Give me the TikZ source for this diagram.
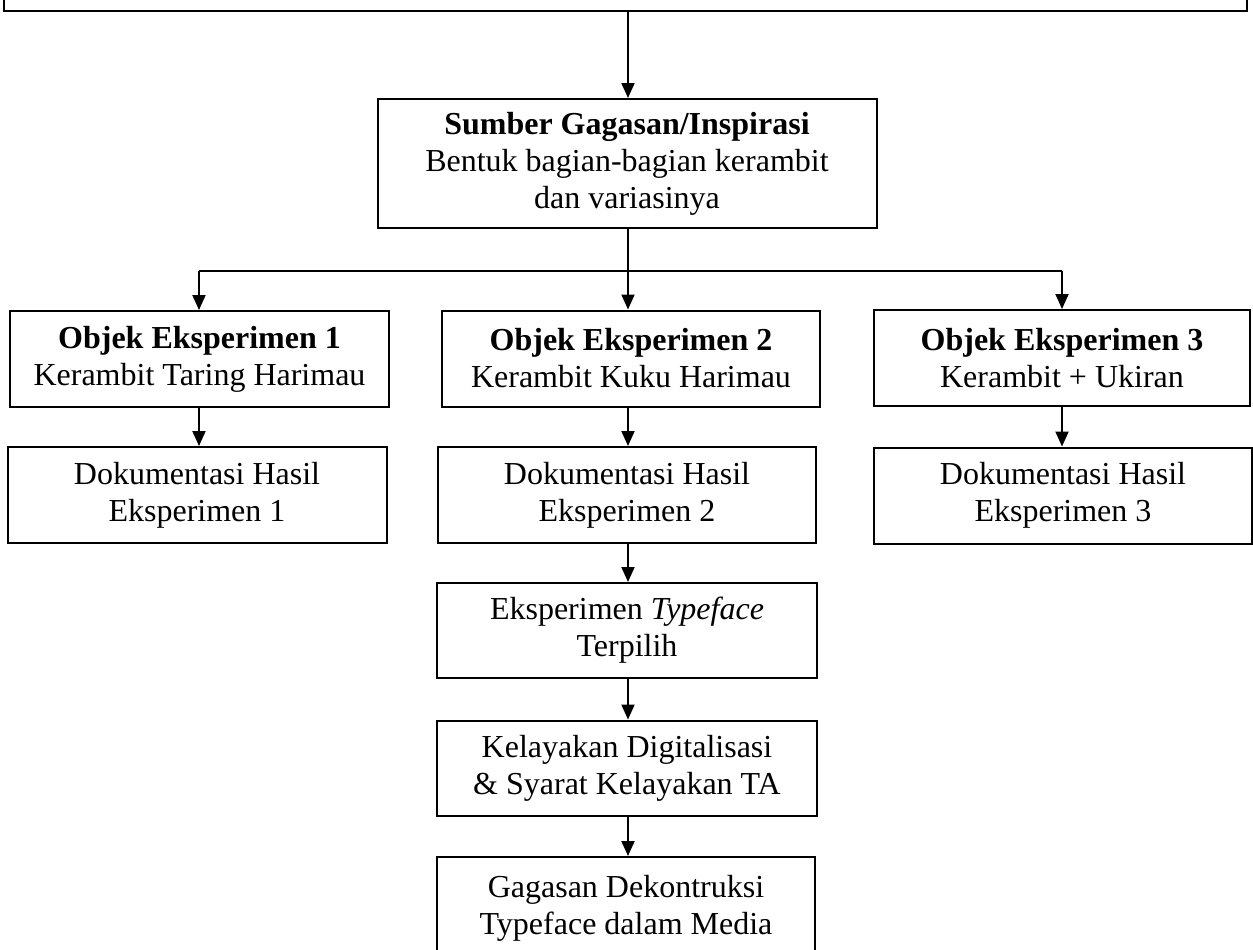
\documentclass[tikz,border=0pt]{standalone}
\usepackage{fontspec}
\setmainfont{Liberation Serif}
\usetikzlibrary{arrows.meta}
\begin{document}
\begin{tikzpicture}[x=0.5pt,y=-0.5pt,
 box/.style={draw, line width=1pt, align=center, inner sep=0pt, font=\fontsize{16}{18.5}\selectfont},
 arr/.style={-{Triangle[width=6.5pt,length=7.5pt]}, line width=1pt},
 ln/.style={line width=1pt}]
\useasboundingbox (0,0) rectangle (1253,949);
\clip (0,0) rectangle (1253,949);

\node[box, minimum width=621.5pt, minimum height=51pt] (top) at (625.5,-40) {};
\node[box, minimum width=249.5pt, minimum height=64.5pt] (sumber) at (627,163.5)
  {\textbf{Sumber Gagasan/Inspirasi}\\Bentuk bagian-bagian kerambit\\dan variasinya};

\node[box, minimum width=189.5pt, minimum height=48pt] (o1) at (199.5,359)
  {\textbf{Objek Eksperimen 1}\\Kerambit Taring Harimau};
\node[box, minimum width=189.5pt, minimum height=48pt] (d1) at (197,495)
  {Dokumentasi Hasil\\Eksperimen 1};

\node[box, minimum width=189pt, minimum height=48pt] (o2) at (631,358.5)
  {\textbf{Objek Eksperimen 2}\\Kerambit Kuku Harimau};
\node[box, minimum width=189pt, minimum height=48pt] (d2) at (627,495)
  {Dokumentasi Hasil\\Eksperimen 2};
\node[box, minimum width=190pt, minimum height=47.5pt] (t) at (627,630.5)
  {Eksperimen \textit{Typeface}\\Terpilih};
\node[box, minimum width=190pt, minimum height=47.5pt] (k) at (627,768)
  {Kelayakan Digitalisasi\\\& Syarat Kelayakan TA};
\node[box, minimum width=189pt, minimum height=51.5pt] (g) at (626,908.5)
  {Gagasan Dekontruksi\\Typeface dalam Media};

\node[box, minimum width=188pt, minimum height=48pt] (o3) at (1062,358)
  {\textbf{Objek Eksperimen 3}\\Kerambit + Ukiran};
\node[box, minimum width=189pt, minimum height=48pt] (d3) at (1063,495.5)
  {Dokumentasi Hasil\\Eksperimen 3};

\coordinate (bl) at (199,271);
\coordinate (bm) at (628,271);
\coordinate (br) at (1062,271);

\draw[arr] (bm |- top.south) -- (bm |- sumber.north);
\draw[ln] (bm |- sumber.south) -- (bm);
\draw[ln] (bl) -- (br);
\draw[arr] (bl) -- (bl |- o1.north);
\draw[arr] (bm) -- (bm |- o2.north);
\draw[arr] (br) -- (br |- o3.north);

\draw[arr] (bl |- o1.south) -- (bl |- d1.north);
\draw[arr] (bm |- o2.south) -- (bm |- d2.north);
\draw[arr] (br |- o3.south) -- (br |- d3.north);

\draw[arr] (bm |- d2.south) -- (bm |- t.north);
\draw[arr] (bm |- t.south) -- (bm |- k.north);
\draw[arr] (bm |- k.south) -- (bm |- g.north);
\end{tikzpicture}
\end{document}
